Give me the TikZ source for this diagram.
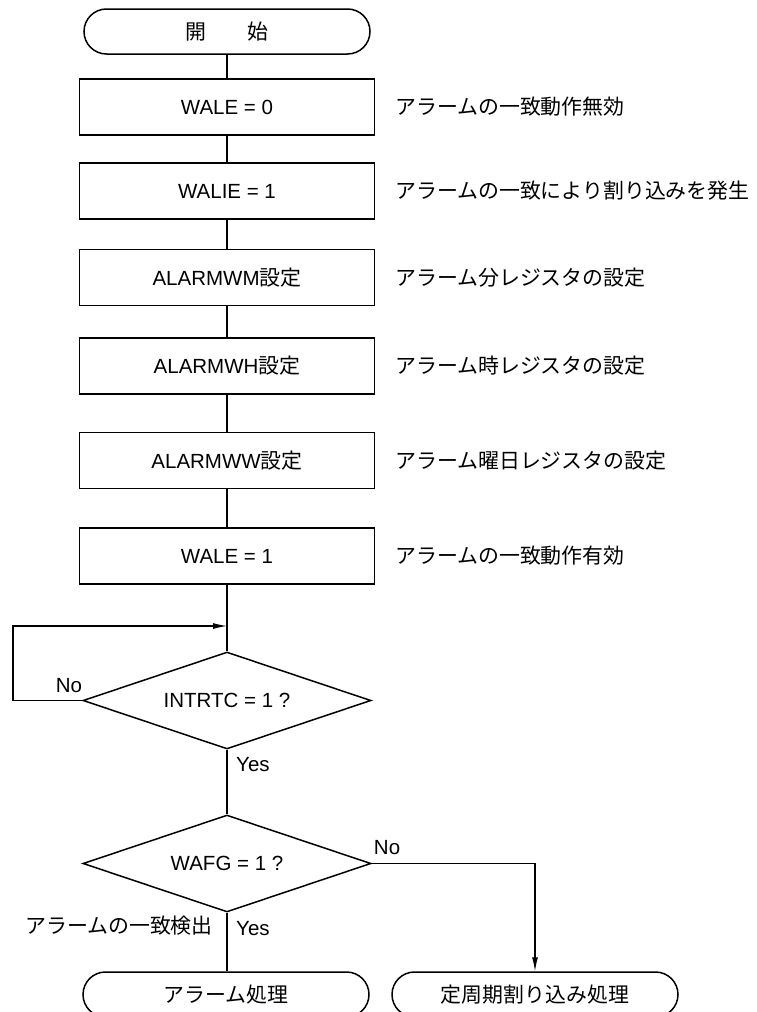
\documentclass[tikz,border=0pt]{standalone}
\usepackage{fontspec}
\setmainfont{Liberation Sans}
\newfontfamily\jp[Scale=1.02]{Noto Sans CJK JP}
\usetikzlibrary{shapes.geometric,arrows.meta}
\begin{document}
\begin{tikzpicture}[x=1pt,y=-1pt,
  font=\fontsize{20.5}{24}\selectfont,
  term/.style={draw, line width=1.5pt, rounded corners=22.5pt, minimum width=286pt, minimum height=45pt, inner sep=0pt},
  proc/.style={draw, line width=1.5pt, minimum width=295pt, minimum height=56pt, inner sep=0pt},
  dec/.style={draw, diamond, aspect=3, line width=1.5pt, minimum width=288pt, minimum height=97pt, inner sep=0pt},
  note/.style={anchor=west, inner sep=0pt},
  lbl/.style={inner sep=0pt},
  conn/.style={line width=1.1pt},
  arr/.style={conn, -{Latex[length=14pt,width=6pt]}}]
\useasboundingbox (0,0) rectangle (757,1012);
\clip (0,0) rectangle (757,1012);

\node[term] (start) at (227,31.5) {\jp 開　　始};
\node[proc] (b1) at (227,107) {WALE = 0};
\node[proc] (b2) at (227,191) {WALIE = 1};
\node[proc] (b3) at (227,277.5) {ALARMWM{\jp 設定}};
\node[proc] (b4) at (227,366) {ALARMWH{\jp 設定}};
\node[proc] (b5) at (227,460.5) {ALARMWW{\jp 設定}};
\node[proc] (b6) at (227,556) {WALE = 1};

\node[note] (n1) at (395,107) {\jp アラームの一致動作無効};
\node[note] (n2) at (395,191) {\jp アラームの一致により割り込みを発生};
\node[note] (n3) at (395,277.5) {\jp アラーム分レジスタの設定};
\node[note] (n4) at (395,366) {\jp アラーム時レジスタの設定};
\node[note] (n5) at (395,460.5) {\jp アラーム曜日レジスタの設定};
\node[note] (n6) at (395,556) {\jp アラームの一致動作有効};

\node[dec] (d1) at (227,700.5) {INTRTC = 1 ?};
\node[dec] (d2) at (227,863.5) {WAFG = 1 ?};

\node[term] (alarm) at (226,994.5) {\jp アラーム処理};
\node[term] (period) at (535,994.5) {\jp 定周期割り込み処理};

\coordinate (j1) at (227,626);
\coordinate (lc) at (13,626);

\draw[conn] (start.south) -- (b1.north);
\draw[conn] (b1.south) -- (b2.north);
\draw[conn] (b2.south) -- (b3.north);
\draw[conn] (b3.south) -- (b4.north);
\draw[conn] (b4.south) -- (b5.north);
\draw[conn] (b5.south) -- (b6.north);
\draw[conn] (b6.south) -- (d1.north);
\draw[arr] (d1.west) -| (lc) -- (j1);
\draw[conn] (d1.south) -- (d2.north);
\draw[conn] (d2.south) -- (d2.south |- alarm.north);
\draw[arr] (d2.east) -| (period.north);

\node[lbl, anchor=base east] (no1) at ([yshift=8pt]d1.west) {No};
\node[lbl, anchor=base west] (yes1) at ([xshift=9pt,yshift=-22pt]d1.south) {Yes};
\node[lbl, anchor=base west] (yes2) at ([xshift=9pt,yshift=-23pt]d2.south) {Yes};
\node[lbl, anchor=base east] (det) at ([xshift=-14pt,yshift=-21pt]d2.south) {\jp アラームの一致検出};
\node[lbl, anchor=base west] (no2) at ([xshift=2pt,yshift=9pt]d2.east) {No};
\end{tikzpicture}
\end{document}
